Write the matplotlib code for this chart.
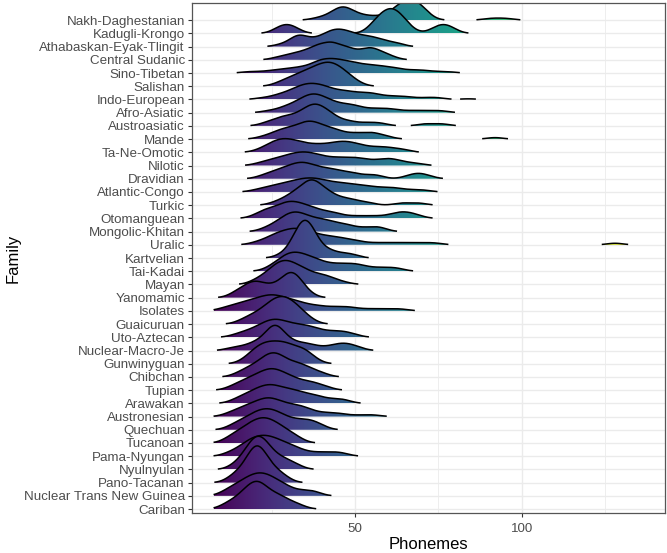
import numpy as np
import matplotlib.pyplot as plt
from matplotlib.patches import Polygon

plt.rcParams['font.family'] = ['Liberation Sans', 'DejaVu Sans']

# families, top row first
families = ["Nakh-Daghestanian", "Kadugli-Krongo", "Athabaskan-Eyak-Tlingit",
            "Central Sudanic", "Sino-Tibetan", "Salishan", "Indo-European",
            "Afro-Asiatic", "Austroasiatic", "Mande", "Ta-Ne-Omotic", "Nilotic",
            "Dravidian", "Atlantic-Congo", "Turkic", "Otomanguean",
            "Mongolic-Khitan", "Uralic", "Kartvelian", "Tai-Kadai", "Mayan",
            "Yanomamic", "Isolates", "Guaicuruan", "Uto-Aztecan",
            "Nuclear-Macro-Je", "Gunwinyguan", "Chibchan", "Tupian", "Arawakan",
            "Austronesian", "Quechuan", "Tucanoan", "Pama-Nyungan", "Nyulnyulan",
            "Pano-Tacanan", "Nuclear Trans New Guinea", "Cariban"]

# (phoneme inventory size, number of languages) per family, same order
inventories = [
    [(38, 1), (41, 2), (44, 4), (46, 5), (48, 5), (51, 3), (54, 2), (57, 2), (60, 2),
     (62, 4), (64, 6), (66, 7), (68, 7), (70, 5), (72, 2), (90, 1), (93, 1), (96, 1)],
    [(27, 2), (29.5, 3), (32, 2), (55, 2), (57, 4), (59, 5), (61, 6), (63, 5), (65, 3),
     (67, 1), (74, 2), (76.5, 3), (79, 2)],
    [(28, 1), (32, 3), (34, 3), (37, 2), (40, 3), (43, 5), (46, 5), (49, 4), (52, 3),
     (55, 3), (58, 2), (61, 1), (63, 1)],
    [(27, 1), (31, 2), (35, 3), (39, 5), (43, 6), (47, 4), (50, 2), (53, 2), (55, 3),
     (58, 2), (61, 1)],
    [(18, 1), (22, 1), (26, 2), (30, 3), (34, 4), (38, 6), (41, 7), (44, 7), (47, 6),
     (50, 5), (53, 4), (56, 4), (59, 3), (62, 3), (66, 2), (70, 2), (74, 1), (78, 1)],
    [(27, 1), (30, 2), (33, 3), (36, 4), (39, 5), (42, 6), (45, 5), (48, 3), (51, 1)],
    [(22, 2), (26, 4), (29, 6), (32, 10), (35, 14), (38, 14), (41, 12), (44, 8), (47, 8),
     (50, 6), (53, 6), (56, 6), (60, 4), (64, 4), (68, 2), (72, 2), (75, 2), (84, 1)],
    [(24, 1), (28, 2), (31, 3), (34, 5), (37, 7), (40, 6), (43, 4), (46, 3), (49, 3),
     (52, 2), (56, 2), (60, 2), (64, 1), (68, 1), (72, 1), (76, 1)],
    [(23, 1), (26, 2), (29, 3), (32, 3), (35, 5), (38, 7), (41, 5), (44, 3), (48, 2),
     (52, 1), (55, 1), (58, 1), (71, 1), (76, 1)],
    [(22, 1), (25, 2), (28, 4), (31, 4), (34, 6), (37, 7), (40, 5), (43, 4), (46, 3),
     (50, 3), (54, 3), (57, 2), (60, 1), (92, 1)],
    [(21, 1), (24, 3), (27, 5), (30, 5), (33, 4), (36, 3), (39, 3), (42, 3), (45, 4),
     (48, 4), (51, 3), (54, 2), (57, 2), (60, 2), (63, 1), (65, 1)],
    [(21, 1), (24, 2), (27, 3), (30, 4), (33, 5), (36, 5), (39, 4), (42, 3), (45, 3),
     (48, 3), (51, 3), (54, 2), (57, 2), (60, 3), (63, 2), (66, 1), (69, 1)],
    [(22, 1), (25, 2), (28, 3), (31, 4), (34, 5), (37, 4), (40, 3), (43, 3), (46, 2),
     (49, 2), (52, 1), (55, 1), (57, 1), (66, 1), (69, 2), (72, 1)],
    [(20, 1), (23, 2), (26, 3), (29, 4), (32, 5), (35, 6), (38, 6), (41, 5), (44, 4),
     (47, 4), (50, 3), (53, 3), (56, 2), (59, 2), (62, 2), (65, 1), (68, 1), (71, 1)],
    [(26, 1), (29, 2), (32, 4), (35, 5), (37, 5), (39, 5), (42, 4), (45, 2), (48, 2),
     (51, 1), (54, 1), (64, 1), (69, 1)],
    [(20, 1), (23, 3), (26, 3), (29, 5), (32, 5), (35, 4), (38, 3), (41, 2), (44, 2),
     (48, 1), (52, 1), (56, 1), (60, 1), (63, 2), (66, 2), (69, 1)],
    [(23, 1), (26, 2), (29, 4), (32, 5), (35, 4), (38, 3), (41, 3), (44, 2), (47, 2),
     (50, 1), (53, 1), (56, 1), (58, 1)],
    [(20, 1), (23, 2), (26, 4), (29, 5), (32, 6), (35, 5), (38, 4), (41, 3), (44, 3),
     (47, 2), (50, 2), (54, 1), (58, 1), (62, 1), (66, 1), (70, 1), (74, 1), (128, 1)],
    [(28, 1), (31, 2), (33, 5), (35, 7), (37, 5), (39, 2), (42, 2), (45, 1), (48, 1),
     (50, 0.5)],
    [(24, 1), (27, 3), (30, 5), (33, 5), (36, 4), (39, 3), (42, 2), (45, 2), (48, 2),
     (51, 2), (54, 1), (57, 1), (60, 1), (63, 1)],
    [(20, 1), (23, 2), (26, 4), (29, 5), (32, 4), (35, 3), (38, 2), (41, 2), (44, 1),
     (47, 0.5)],
    [(14, 1), (17, 2), (20, 3), (23, 2), (26, 2), (29, 3), (31, 3), (33, 3), (36, 1)],
    [(10, 1), (13, 2), (16, 3), (19, 4), (22, 5), (25, 6), (28, 5), (31, 4), (34, 3),
     (37, 2), (40, 2), (44, 2), (48, 2), (52, 1), (56, 1), (60, 1), (64, 1)],
    [(16, 1), (19, 2), (22, 3), (25, 5), (28, 6), (31, 5), (34, 3), (37, 1)],
    [(14, 1), (17, 2), (20, 3), (23, 5), (26, 6), (29, 5), (32, 4), (35, 4), (38, 3),
     (41, 2), (44, 2), (47, 2), (50, 1)],
    [(13, 1), (16, 1), (19, 2), (22, 3), (25, 6), (27, 6), (30, 3), (33, 2), (36, 2),
     (39, 1), (42, 1), (45, 2), (48, 2), (51, 1)],
    [(17, 1), (20, 3), (23, 4), (26, 4), (29, 4), (32, 3), (35, 3), (38, 1)],
    [(15, 1), (18, 2), (21, 3), (24, 5), (27, 5), (30, 3), (33, 3), (36, 2), (39, 1),
     (41, 0.5)],
    [(13, 1), (16, 2), (19, 3), (22, 4), (25, 5), (28, 4), (31, 3), (34, 2), (37, 2),
     (40, 1), (42, 0.5)],
    [(14, 1), (17, 2), (20, 3), (23, 4), (26, 4), (29, 3), (32, 3), (35, 2), (38, 2),
     (41, 1), (44, 1), (47, 1)],
    [(12, 1), (15, 2), (18, 3), (21, 4), (24, 5), (27, 4), (30, 3), (33, 3), (36, 2),
     (39, 1), (42, 1), (45, 1), (49, 0.5), (53, 0.5), (56, 0.5)],
    [(13, 1), (16, 2), (19, 3), (22, 4), (25, 4), (28, 3), (31, 2), (34, 2), (37, 2),
     (40, 1)],
    [(12, 1), (15, 2), (18, 3), (21, 4), (24, 4), (27, 3), (30, 2), (33, 1)],
    [(12, 1), (15, 2), (18, 4), (21, 5), (24, 5), (27, 4), (30, 3), (33, 2), (36, 1),
     (39, 1), (42, 1), (45, 1), (47, 0.5)],
    [(14, 1), (17, 2), (19, 3), (21, 4), (23, 3), (25, 2), (28, 2), (31, 1), (33, 0.5)],
    [(13, 1), (16, 2), (19, 4), (21, 4), (23, 3), (26, 2), (29, 1)],
    [(11, 1), (14, 2), (17, 3), (20, 4), (23, 4), (26, 3), (29, 2), (32, 1), (35, 1),
     (38, 1)],
    [(11, 1), (14, 2), (17, 3), (19, 3), (21, 4), (23, 3), (26, 3), (29, 2), (32, 1),
     (34, 0.5)],
]

bw = 2.4                      # joint bandwidth
x_lo, x_hi = 7.55, 136.5      # density grid / colour range
grid = np.linspace(x_lo, x_hi, 1500)

dens = []
for pairs in inventories:
    v = np.array([p[0] for p in pairs], float)
    c = np.array([p[1] for p in pairs], float)
    k = np.exp(-0.5 * ((grid[:, None] - v[None, :]) / bw) ** 2) / (bw * np.sqrt(2 * np.pi))
    dens.append(k @ c / c.sum())
dens = np.array(dens)
dmax = dens.max()
height = 2.85 / dmax
cut = 0.01 * dmax

fig, ax = plt.subplots(figsize=(6.67, 5.53), dpi=100)
fig.subplots_adjust(left=0.2879, right=0.997, bottom=0.0718, top=0.9946)

gradient = np.linspace(0, 1, 512)[None, :]
n = len(families)
for i, fam in enumerate(families):
    y0 = n - i
    d = dens[i]
    idx = np.flatnonzero(d > cut)
    runs = np.split(idx, np.flatnonzero(np.diff(idx) > 1) + 1)
    for r in runs:
        if len(r) < 2:
            continue
        xs = grid[r]
        ys = y0 + d[r] * height
        verts = np.vstack([np.column_stack([xs, ys]),
                           np.column_stack([xs[::-1], np.full(len(xs), y0)])])
        poly = Polygon(verts, closed=True, facecolor='none', edgecolor='none')
        ax.add_patch(poly)
        im = ax.imshow(gradient, extent=[x_lo, x_hi, y0, ys.max()], cmap='viridis',
                       aspect='auto', origin='lower', zorder=2 + i * 0.01,
                       interpolation='bilinear')
        im.set_clip_path(poly)
        ax.plot(xs, ys, color='black', lw=1.1, zorder=2 + i * 0.01 + 0.005,
                solid_capstyle='butt')

ax.set_xlim(1.1, 143)
ax.set_ylim(0.68, 39.3)
ax.set_aspect('auto')

ax.set_xticks([50, 100])
ax.set_xticks([25, 75, 125], minor=True)
ax.set_yticks(np.arange(n, 0, -1))
ax.set_yticklabels(families)

ax.set_axisbelow(True)
ax.grid(which='major', color='#ebebeb', lw=1.0)
ax.grid(which='minor', axis='x', color='#ebebeb', lw=0.6)
ax.tick_params(which='major', length=3.2, width=0.8, color='#333333',
               labelsize=9.6, labelcolor='#4d4d4d', pad=2)
ax.tick_params(axis='x', which='major', pad=3.5)
ax.tick_params(which='minor', length=0)
for s in ax.spines.values():
    s.set_color('#555555')
    s.set_linewidth(0.9)

ax.set_xlabel("Phonemes", fontsize=12, labelpad=1.5)
ax.set_ylabel("Family", fontsize=12, labelpad=2)

fig.savefig("out.png", dpi=100)
